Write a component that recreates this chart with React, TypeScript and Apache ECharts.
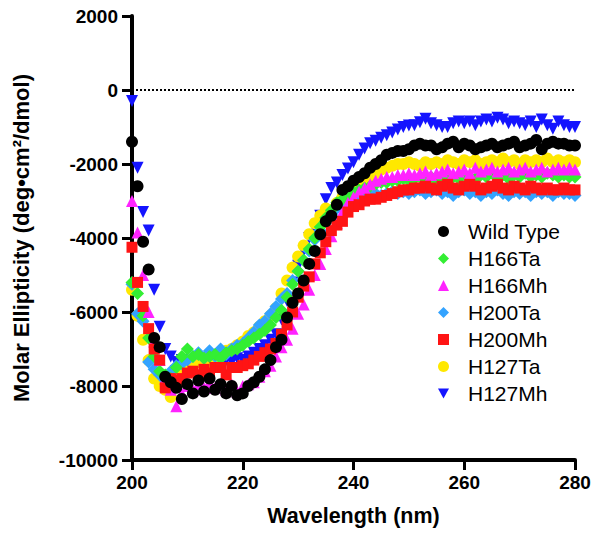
import React, { useEffect, useRef } from "react";
import * as echarts from "echarts";

const wavelengths = [
  200, 201, 202, 203, 204, 205, 206, 207, 208, 209, 210, 211, 212, 213, 214, 215, 216, 217, 218, 219,
  220, 221, 222, 223, 224, 225, 226, 227, 228, 229, 230, 231, 232, 233, 234, 235, 236, 237, 238, 239,
  240, 241, 242, 243, 244, 245, 246, 247, 248, 249, 250, 251, 252, 253, 254, 255, 256, 257, 258, 259,
  260, 261, 262, 263, 264, 265, 266, 267, 268, 269, 270, 271, 272, 273, 274, 275, 276, 277, 278, 279, 280,
];

const wildType = [
  -1400, -2600, -4100, -4850, -6700, -6950, -7750, -7900, -8050, -8350,
  -7950, -8200, -7850, -8150, -7800, -8100, -7950, -8200, -8000, -8250,
  -8200, -8000, -7900, -7750, -7550, -7300, -6950, -6750, -6150, -5750,
  -5500, -5150, -4700, -4350, -3900, -3550, -3400, -3100, -2700, -2600,
  -2450, -2350, -2250, -2100, -2000, -1900, -1750, -1700, -1650, -1650,
  -1600, -1500, -1450, -1500, -1500, -1600, -1550, -1450, -1400, -1550,
  -1450, -1500, -1600, -1550, -1500, -1450, -1550, -1500, -1450, -1400,
  -1550, -1500, -1450, -1350, -1600, -1450, -1400, -1450, -1450, -1500, -1500,
];

const h166Ta = [
  -5200, -5500, -6100, -6700, -7200, -7600, -7700, -7800, -7500, -7200,
  -7000, -7200, -7150, -7250, -7200, -7150, -7250, -7100, -7050, -7000,
  -6900, -6800, -6700, -6600, -6500, -6350, -6150, -5950, -5600, -5250,
  -4900, -4600, -4300, -4000, -3700, -3450, -3250, -3050, -2950, -2850,
  -2750, -2700, -2650, -2600, -2550, -2500, -2500, -2450, -2450, -2400,
  -2450, -2400, -2350, -2400, -2350, -2450, -2400, -2300, -2350, -2400,
  -2300, -2350, -2400, -2300, -2350, -2250, -2350, -2300, -2400, -2300,
  -2350, -2250, -2350, -2300, -2350, -2250, -2300, -2350, -2300, -2350, -2350,
];

const h166Mh = [
  -3000, -3850, -5000, -6000, -6800, -7300, -7800, -8100, -8550, -8200,
  -8000, -8100, -7950, -8050, -7900, -8050, -7950, -8100, -7950, -8150,
  -8000, -7950, -7900, -7750, -7600, -7450, -7200, -6950, -6750, -6450,
  -6050, -5800, -5400, -5000, -4700, -4300, -3950, -3600, -3300, -3050,
  -2900, -2750, -2650, -2550, -2450, -2400, -2350, -2350, -2300, -2300,
  -2250, -2300, -2250, -2200, -2300, -2250, -2200, -2150, -2250, -2200,
  -2150, -2250, -2100, -2200, -2150, -2100, -2200, -2150, -2100, -2200,
  -2150, -2100, -2200, -2150, -2100, -2200, -2150, -2100, -2150, -2100, -2150,
];

const h200Ta = [
  -5250, -6050, -6250, -7350, -7550, -7700, -7850, -7600, -7450, -7400,
  -7300, -7200, -7100, -7250, -7050, -7200, -7000, -7150, -7000, -6900,
  -6850, -6700, -6550, -6350, -6250, -6050, -5850, -5650, -5500, -5150,
  -4900, -4600, -4350, -4050, -3800, -3550, -3350, -3200, -3100, -3000,
  -2950, -2900, -2850, -2850, -2800, -2850, -2800, -2750, -2800, -2750,
  -2800, -2750, -2700, -2800, -2750, -2700, -2800, -2750, -2850, -2750,
  -2700, -2800, -2750, -2850, -2750, -2800, -2700, -2800, -2850, -2750,
  -2800, -2750, -2850, -2750, -2800, -2750, -2850, -2750, -2800, -2800, -2850,
];

const h200Mh = [
  -4250, -5200, -5850, -6450, -7000, -7300, -8050, -7800, -7850, -7800,
  -7650, -7600, -7700, -7550, -7650, -7500, -7500, -7700, -7500, -7500,
  -7450, -7400, -7300, -7200, -7100, -7000, -6850, -6600, -6350, -6000,
  -5600, -5300, -5050, -4700, -4400, -4100, -3800, -3650, -3550, -3300,
  -3150, -3100, -3000, -2950, -2950, -2900, -2850, -2800, -2750, -2700,
  -2700, -2650, -2650, -2600, -2650, -2700, -2600, -2550, -2650, -2700,
  -2600, -2550, -2600, -2700, -2650, -2600, -2550, -2650, -2700, -2600,
  -2650, -2700, -2600, -2650, -2700, -2650, -2700, -2700, -2650, -2700, -2700,
];

const h127Ta = [
  -5400, -6100, -6750, -7300, -7800, -8000, -8100, -8300, -8000, -7700,
  -7500, -7400, -7350, -7300, -7350, -7250, -7200, -7050, -7000, -6900,
  -6800, -6650, -6550, -6400, -6250, -6100, -5900, -5500, -5150, -4800,
  -4500, -4200, -3900, -3600, -3400, -3200, -3250, -3050, -2900, -2750,
  -2650, -2550, -2450, -2350, -2250, -2150, -2100, -2050, -2000, -2000,
  -1950, -2000, -2050, -1950, -2000, -1950, -2000, -1900, -1950, -2000,
  -1900, -1950, -1900, -2000, -1950, -1900, -1950, -1850, -1950, -1900,
  -2000, -1900, -1950, -1900, -1950, -1850, -1950, -1900, -1950, -1900, -1950,
];

const h127Mh = [
  -300, -2100, -3300, -3800, -5400, -6400, -7000, -7200, -7350, -7300,
  -7400, -7350, -7300, -7400, -7350, -7300, -7400, -7300, -7350, -7250,
  -7300, -7200, -7100, -7000, -6900, -6750, -6600, -6200, -5700, -5200,
  -4750, -4350, -4000, -3750, -3400, -2950, -2650, -2500, -2300, -2120,
  -1950, -1750, -1580, -1440, -1370, -1290, -1220, -1150, -1070, -1000,
  -960, -950, -870, -780, -900, -950, -1000, -1000, -900, -850,
  -900, -850, -950, -850, -800, -850, -750, -800, -900, -850,
  -900, -950, -850, -1000, -800, -950, -1050, -850, -950, -1000, -1000,
];

const legendOrder = ["Wild Type", "H166Ta", "H166Mh", "H200Ta", "H200Mh", "H127Ta", "H127Mh"];
const xTicks = { min: 200, max: 280, interval: 20 };
const yTicks = { min: -10000, max: 2000, interval: 2000 };

const FONT = "'Liberation Sans', Arial, Helvetica, sans-serif";
const DOWN_TRIANGLE = "path://M0,0L10,0L5,9Z";

function pairs(values: number[]) {
  return wavelengths.map((w, i) => [w, values[i]]);
}

export default function App() {
  const ref = useRef<HTMLDivElement>(null);

  useEffect(() => {
    if (!ref.current) return;
    const chart = echarts.init(ref.current, undefined, { renderer: "svg" });

    const mk = (name: string, values: number[], color: string, symbol: string, size: number, rotate = 0) => ({
      name,
      type: "scatter",
      data: pairs(values),
      symbol,
      symbolSize: size,
      symbolRotate: rotate,
      itemStyle: { color, opacity: 1 },
      emphasis: { disabled: true },
    });

    const blue = mk("H127Mh", h127Mh, "#1414ff", "triangle", 12, 180) as any;
    blue.markLine = {
      silent: true,
      symbol: ["none", "none"],
      label: { show: false },
      lineStyle: { type: "dotted", color: "#000", width: 2 },
      data: [{ yAxis: 0 }],
    };

    const option: any = {
      animation: false,
      backgroundColor: "#ffffff",
      grid: { left: 132, right: 25, top: 16, bottom: 78, containLabel: false },
      xAxis: {
        type: "value",
        min: xTicks.min,
        max: xTicks.max,
        interval: xTicks.interval,
        name: "Wavelength (nm)",
        nameLocation: "middle",
        nameGap: 45,
        nameTextStyle: { fontFamily: FONT, fontWeight: "bold", fontSize: 21.5, color: "#000" },
        axisLine: { onZero: false, lineStyle: { color: "#000", width: 4 } },
        axisTick: { length: 10, lineStyle: { color: "#000", width: 3 } },
        axisLabel: { margin: 13, fontFamily: FONT, fontWeight: "bold", fontSize: 19, color: "#000" },
        splitLine: { show: false },
      },
      yAxis: {
        type: "value",
        min: yTicks.min,
        max: yTicks.max,
        interval: yTicks.interval,
        name: "Molar Ellipticity (deg•cm²/dmol)",
        nameLocation: "middle",
        nameGap: 100,
        nameTextStyle: { fontFamily: FONT, fontWeight: "bold", fontSize: 22, color: "#000" },
        axisLine: { onZero: false, lineStyle: { color: "#000", width: 4 } },
        axisTick: { length: 10, lineStyle: { color: "#000", width: 3 } },
        axisLabel: {
          margin: 14,
          fontFamily: FONT,
          fontWeight: "bold",
          fontSize: 19,
          color: "#000",
          formatter: (v: number) => String(v),
        },
        splitLine: { show: false },
      },
      legend: {
        orient: "vertical",
        left: 433,
        top: 216,
        itemWidth: 11,
        itemHeight: 11,
        itemGap: 6,
        data: legendOrder.map((n) => (n === "H127Mh" ? { name: n, icon: DOWN_TRIANGLE } : n)),
        textStyle: { fontFamily: FONT, fontSize: 21, lineHeight: 21, color: "#000", padding: [0, 0, 0, 14] },
        selectedMode: false,
      },
      series: [
        blue,
        mk("H127Ta", h127Ta, "#ffe800", "circle", 12),
        mk("H200Ta", h200Ta, "#33a3ff", "diamond", 13),
        mk("H166Ta", h166Ta, "#33ee33", "diamond", 13),
        mk("H166Mh", h166Mh, "#ff22ff", "triangle", 12),
        mk("H200Mh", h200Mh, "#ff1414", "rect", 11),
        mk("Wild Type", wildType, "#000000", "circle", 12),
      ],
    };

    chart.setOption(option);
    return () => chart.dispose();
  }, []);

  return (
    <div
      ref={ref}
      style={{ position: "absolute", left: 0, top: 0, width: 600, height: 538, background: "#fff" }}
    />
  );
}
